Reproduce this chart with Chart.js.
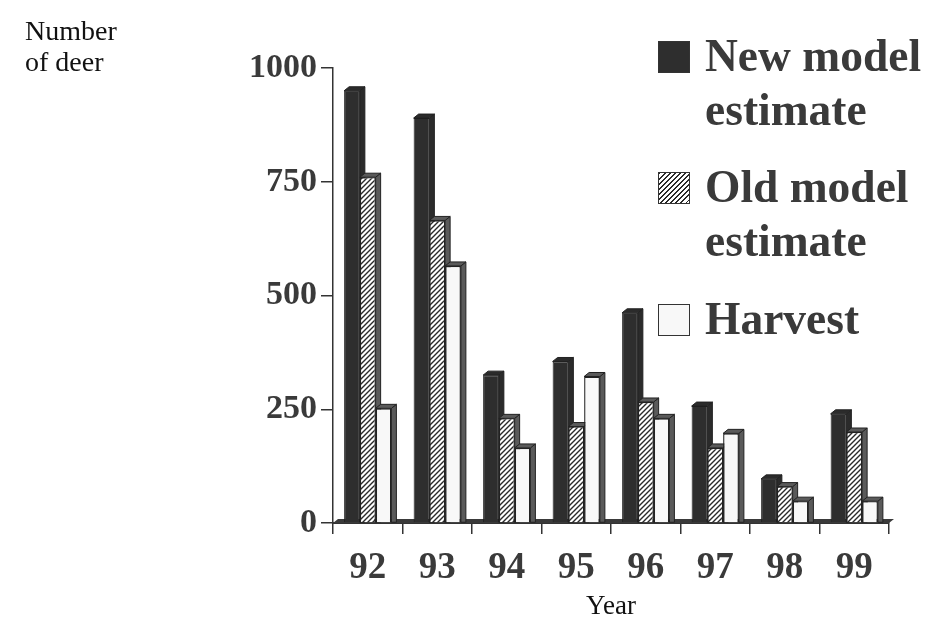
<!DOCTYPE html>
<html>
<head>
<meta charset="utf-8">
<script src="https://cdn.jsdelivr.net/npm/chart.js@4.4.1/dist/chart.umd.min.js"></script>
<style>
  body { margin: 0; background: #fff; }
  #wrap { position: relative; width: 927px; height: 623px; }
  #ytitle { position: absolute; left: 25px; top: 15px; font: 28px "Liberation Serif", serif; color: #111; line-height: 31px; }
  #legend { position: absolute; left: 658px; top: 29px; font: bold 45.5px "Liberation Serif", serif; color: #3a3a3a; }
  .item { position: absolute; left: 0; white-space: nowrap; line-height: 54px; }
  .box { position: absolute; left: 0; width: 32px; height: 32px; border: 1.5px solid #333; box-sizing: border-box; }
  .txt { position: absolute; left: 47px; top: 0; }
</style>
</head>
<body>
<div id="wrap">
  <canvas id="chart" width="927" height="623"></canvas>
  <div id="ytitle">Number<br>of deer</div>
  <div id="legend"></div>
</div>
<script>
// data
const years = ["92", "93", "94", "95", "96", "97", "98", "99"];
const newModel = [950, 890, 325, 355, 462, 257, 97, 240];
const oldModel = [760, 665, 230, 212, 266, 165, 80, 200];
const harvest = [252, 565, 165, 322, 230, 197, 48, 48];
const seriesNames = [["New model", "estimate"], ["Old model", "estimate"], ["Harvest"]];
const yTicks = [0, 250, 500, 750, 1000];

// hatch for the old model bars
function makeHatch() {
    const c = document.createElement("canvas");
    c.width = 5; c.height = 5;
    const g = c.getContext("2d");
    g.fillStyle = "#fff";
    g.fillRect(0, 0, 5, 5);
    g.strokeStyle = "#2a2a2a";
    g.lineWidth = 1.4;
    g.beginPath();
    g.moveTo(-1, 6); g.lineTo(6, -1);
    g.moveTo(-1, 1); g.lineTo(1, -1);
    g.moveTo(4, 6); g.lineTo(6, 4);
    g.stroke();
    return g.createPattern(c, "repeat");
}
const ctx = document.getElementById("chart").getContext("2d");
const hatch = makeHatch();

const depth = {dx: 5, dy: 4};

// draws the bars in dataset order with a little 3d side and top
const threeD = {
    id: "threeD",
    beforeDatasetsDraw(chart) {
        const c = chart.ctx;
        const area = chart.chartArea;
        c.save();
        // floor strip
        c.fillStyle = "#3a3a3a";
        c.beginPath();
        c.moveTo(area.left, area.bottom);
        c.lineTo(area.right, area.bottom);
        c.lineTo(area.right + depth.dx, area.bottom - depth.dy);
        c.lineTo(area.left + depth.dx, area.bottom - depth.dy);
        c.closePath();
        c.fill();
        chart.data.datasets.forEach((ds, i) => {
            const meta = chart.getDatasetMeta(i);
            meta.data.forEach(bar => {
                const l = bar.x - bar.width / 2, r = bar.x + bar.width / 2;
                const t = bar.y, b = bar.base;
                c.fillStyle = i === 0 ? "#2b2b2b" : "#5a5a5a";
                c.strokeStyle = "#222";
                c.lineWidth = 1;
                c.beginPath();
                c.moveTo(r, t);
                c.lineTo(r + depth.dx, t - depth.dy);
                c.lineTo(r + depth.dx, b);
                c.lineTo(r, b);
                c.closePath();
                c.fill(); c.stroke();
                c.beginPath();
                c.moveTo(l, t);
                c.lineTo(l + depth.dx, t - depth.dy);
                c.lineTo(r + depth.dx, t - depth.dy);
                c.lineTo(r, t);
                c.closePath();
                c.fill(); c.stroke();
                bar.draw(c, area);
            });
        });
        c.restore();
        return false;
    }
};

const serif = "'Liberation Serif', 'Times New Roman', serif";

new Chart(ctx, {
    type: "bar",
    data: {
        labels: years,
        datasets: [
            { label: "New model estimate", data: newModel, backgroundColor: "#2e2e2e", borderColor: "#1e1e1e", borderWidth: 1 },
            { label: "Old model estimate", data: oldModel, backgroundColor: hatch, borderColor: "#222", borderWidth: 1.2 },
            { label: "Harvest", data: harvest, backgroundColor: "#f8f8f8", borderColor: "#222", borderWidth: 1.4 }
        ]
    },
    options: {
        responsive: false,
        animation: false,
        devicePixelRatio: 1,
        layout: { padding: { left: 0, right: 38, top: 68, bottom: 0 } },
        datasets: { bar: { categoryPercentage: 0.68, barPercentage: 1.0 } },
        plugins: { legend: { display: false }, tooltip: { enabled: false } },
        scales: {
            x: {
                grid: { offset: true, drawOnChartArea: false, tickLength: 11, color: "#333", lineWidth: 1.5 },
                border: { color: "#333", width: 2 },
                ticks: { font: { family: serif, size: 37, weight: "bold" }, color: "#3a3a3a", padding: 12 },
                title: { display: true, text: "Year", font: { family: serif, size: 27 }, color: "#111", padding: 0 },
                afterFit(scale) { scale.height = 100; }
            },
            y: {
                min: 0, max: 1000,
                afterBuildTicks(scale) { scale.ticks = yTicks.map(v => ({ value: v })); },
                grid: { drawOnChartArea: false, tickLength: 12, color: "#333", lineWidth: 1.5 },
                border: { color: "#333", width: 1.5 },
                ticks: {
                    font: { family: serif, size: 34, weight: "bold" }, color: "#3a3a3a", padding: 4,
                    callback: v => String(v)
                },
                afterFit(scale) { scale.width = 333; }
            }
        }
    },
    plugins: [threeD]
});

// html legend, boxes use the same fills as the bars
const legend = document.getElementById("legend");
const boxFills = ["#2e2e2e", "repeating-linear-gradient(135deg, #2a2a2a 0 1.4px, #fff 1.4px 3.6px)", "#f8f8f8"];
const itemTops = [0, 131, 263];
seriesNames.forEach((lines, i) => {
    const item = document.createElement("div");
    item.className = "item";
    item.style.top = itemTops[i] + "px";
    const box = document.createElement("div");
    box.className = "box";
    box.style.top = "12px";
    box.style.background = boxFills[i];
    const txt = document.createElement("div");
    txt.className = "txt";
    txt.innerHTML = lines.join("<br>");
    item.appendChild(box);
    item.appendChild(txt);
    legend.appendChild(item);
});
</script>
</body>
</html>
